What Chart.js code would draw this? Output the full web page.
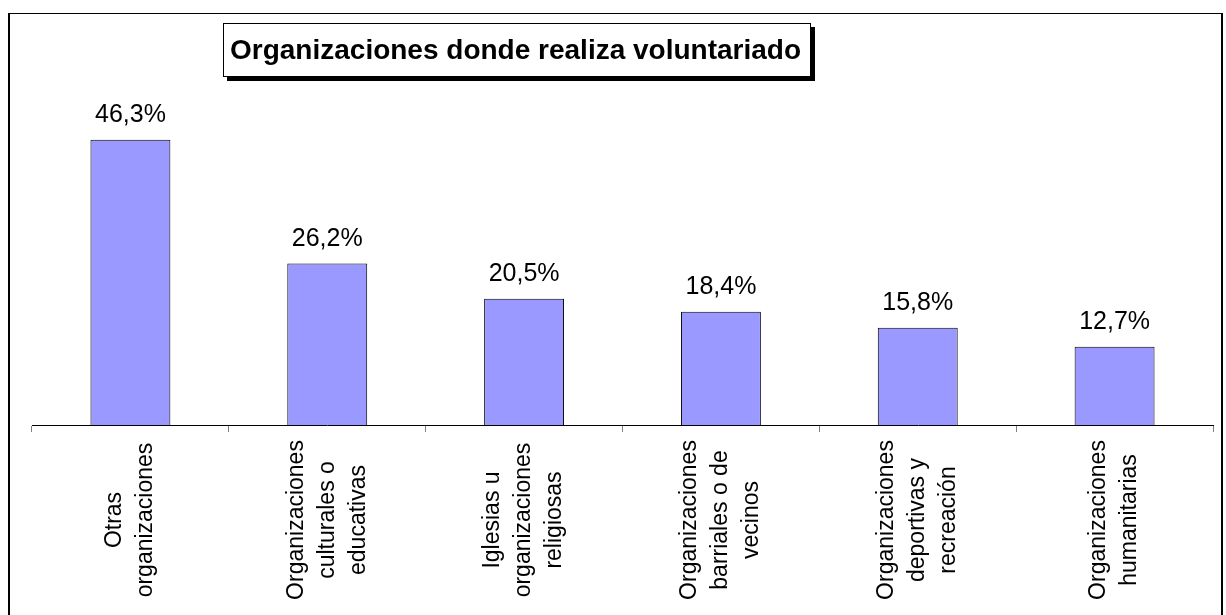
<!DOCTYPE html>
<html>
<head>
<meta charset="utf-8">
<script src="https://cdn.jsdelivr.net/npm/chart.js@4.4.1/dist/chart.umd.min.js"></script>
<style>
  html, body { margin: 0; padding: 0; background: #fff; }
  body { width: 1226px; height: 615px; position: relative; overflow: hidden; font-family: "Liberation Sans", Arial, sans-serif; }
  #frame { position: absolute; left: 8px; top: 13px; width: 1211px; height: 700px; border-left: 2px solid #000; border-top: 1px solid #000; border-right: 2px solid #000; }
  #wrap { position: absolute; left: 0; top: 0; width: 1226px; height: 615px; }
  #titlebox { position: absolute; left: 223px; top: 23px; width: 588px; height: 54px; border: 1px solid #000; background: #fff; box-shadow: 4px 4px 0 #000; display: flex; align-items: center; padding-left: 6px; box-sizing: border-box; font: bold 28px "Liberation Sans", Arial, sans-serif; color: #000; white-space: nowrap; letter-spacing: 0px; }
</style>
</head>
<body>
<div id="frame"></div>
<div id="wrap"><canvas id="c" width="1226" height="615"></canvas></div>
<div id="titlebox">Organizaciones donde realiza voluntariado</div>
<script>
const categories = [
  ["Otras", "organizaciones"],
  ["Organizaciones", "culturales o", "educativas"],
  ["Iglesias u", "organizaciones", "religiosas"],
  ["Organizaciones", "barriales o de", "vecinos"],
  ["Organizaciones", "deportivas y", "recreación"],
  ["Organizaciones", "humanitarias"]
];
const values = [46.3, 26.2, 20.5, 18.4, 15.8, 12.7];
const yMin = 0;
const yMax = 50;

const FONT = '"Liberation Sans", Arial, sans-serif';

const labelsPlugin = {
  id: 'customLabels',
  afterDatasetsDraw(chart) {
    const ctx = chart.ctx;
    const meta = chart.getDatasetMeta(0);
    ctx.save();
    ctx.fillStyle = '#000';
    ctx.font = '25px ' + FONT;
    ctx.textAlign = 'center';
    ctx.textBaseline = 'alphabetic';
    meta.data.forEach((bar, i) => {
      const txt = values[i].toFixed(1).replace('.', ',') + '%';
      ctx.fillText(txt, bar.x, bar.y - 18);
    });
    ctx.restore();
  },
  afterDraw(chart) {
    const ctx = chart.ctx;
    const xs = chart.scales.x;
    const lineH = 31;
    const centerY = 520;
    ctx.save();
    ctx.fillStyle = '#000';
    ctx.font = '23px ' + FONT;
    ctx.textAlign = 'center';
    ctx.textBaseline = 'middle';
    categories.forEach((lines, i) => {
      const cx = xs.getPixelForValue(i);
      const n = lines.length;
      lines.forEach((ln, j) => {
        const x = cx + (j - (n - 1) / 2) * lineH;
        ctx.save();
        ctx.translate(x, centerY);
        ctx.rotate(-Math.PI / 2);
        ctx.fillText(ln, 0, 0);
        ctx.restore();
      });
    });
    ctx.restore();
  }
};

new Chart(document.getElementById('c'), {
  type: 'bar',
  data: {
    labels: categories.map(l => l.join(' ')),
    datasets: [{
      data: values,
      backgroundColor: '#9999FF',
      borderColor: '#000',
      borderWidth: 1,
      categoryPercentage: 1,
      barPercentage: 0.406
    }]
  },
  options: {
    responsive: false,
    animation: false,
    devicePixelRatio: 1,
    layout: { padding: { left: 32, right: 13, top: 117, bottom: 183 } },
    plugins: { legend: { display: false }, tooltip: { enabled: false }, title: { display: false } },
    scales: {
      x: {
        display: true,
        offset: true,
        grid: { display: true, drawOnChartArea: false, drawTicks: true, tickLength: 7, color: '#808080', offset: true },
        border: { display: true, color: '#000', width: 1 },
        ticks: { display: false }
      },
      y: {
        display: false,
        min: yMin,
        max: yMax
      }
    }
  },
  plugins: [labelsPlugin]
});
</script>
</body>
</html>
